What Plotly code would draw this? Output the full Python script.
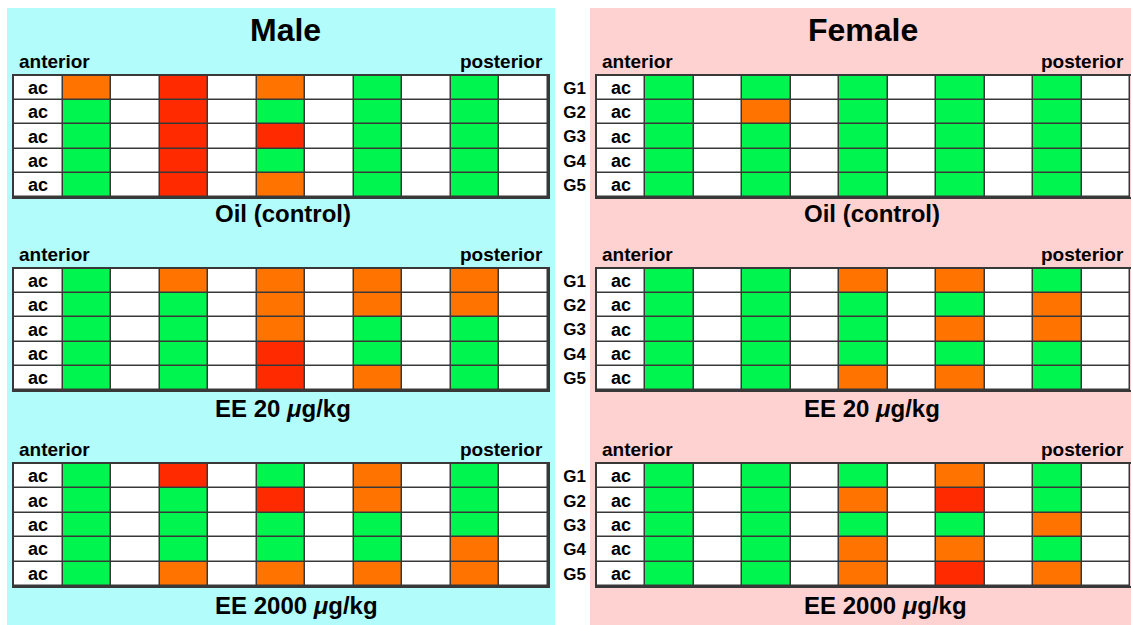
import plotly.graph_objects as go

# ---------------- data ----------------
groups = ["G1", "G2", "G3", "G4", "G5"]
segment_label = "ac"
treatments = ["Oil (control)", "EE 20 <i>μ</i>g/kg", "EE 2000 <i>μ</i>g/kg"]
# codes per colored segment (anterior -> posterior): G = green, O = orange, R = red
male_oil = [["O", "R", "O", "G", "G"],
            ["G", "R", "G", "G", "G"],
            ["G", "R", "R", "G", "G"],
            ["G", "R", "G", "G", "G"],
            ["G", "R", "O", "G", "G"]]
male_ee20 = [["G", "O", "O", "O", "O"],
             ["G", "G", "O", "O", "O"],
             ["G", "G", "O", "G", "G"],
             ["G", "G", "R", "G", "G"],
             ["G", "G", "R", "O", "G"]]
male_ee2000 = [["G", "R", "G", "O", "G"],
               ["G", "G", "R", "O", "G"],
               ["G", "G", "G", "G", "G"],
               ["G", "G", "G", "G", "O"],
               ["G", "O", "O", "O", "O"]]
female_oil = [["G", "G", "G", "G", "G"],
              ["G", "O", "G", "G", "G"],
              ["G", "G", "G", "G", "G"],
              ["G", "G", "G", "G", "G"],
              ["G", "G", "G", "G", "G"]]
female_ee20 = [["G", "G", "O", "O", "G"],
               ["G", "G", "G", "G", "O"],
               ["G", "G", "G", "O", "O"],
               ["G", "G", "G", "G", "G"],
               ["G", "G", "O", "O", "G"]]
female_ee2000 = [["G", "G", "G", "O", "G"],
                 ["G", "G", "O", "R", "G"],
                 ["G", "G", "G", "G", "O"],
                 ["G", "G", "O", "O", "G"],
                 ["G", "G", "O", "R", "O"]]

# ---------------- styling ----------------
W, H = 1131, 625
FONT = "Liberation Sans, Arial, Helvetica, sans-serif"
C_WHITE, C_GREEN, C_ORANGE, C_RED = "#ffffff", "#00f54f", "#ff7300", "#ff2a00"
LINE = "#383838"
CYAN, PINK = "#b3fcfc", "#ffd2d2"
code_val = {"G": 1, "O": 2, "R": 3}
cscale = [[0, C_WHITE], [0.125, C_WHITE], [0.125, C_GREEN], [0.375, C_GREEN],
          [0.375, C_ORANGE], [0.625, C_ORANGE], [0.625, C_RED], [1, C_RED]]


def px(x):
    return x / W


def py(y):
    return 1 - y / H


panels = [
    # (data, x-left, x-right, y-top, y-bottom, female)
    (male_oil, 14, 548, 76, 197, False),
    (male_ee20, 14, 548, 269, 390, False),
    (male_ee2000, 14, 548, 464, 586, False),
    (female_oil, 597, 1131, 76, 197, True),
    (female_ee20, 597, 1131, 269, 390, True),
    (female_ee2000, 597, 1131, 464, 586, True),
]

fig = go.Figure()
layout = dict(width=W, height=H, margin=dict(l=0, r=0, t=0, b=0),
              paper_bgcolor="white", plot_bgcolor="white", showlegend=False,
              font=dict(family=FONT, color="black"))
shapes = [
    dict(type="rect", xref="paper", yref="paper", x0=px(7), x1=px(555), y0=0, y1=py(8),
         fillcolor=CYAN, line=dict(width=0), layer="below"),
    dict(type="rect", xref="paper", yref="paper", x0=px(590), x1=1, y0=0, y1=py(8),
         fillcolor=PINK, line=dict(width=0), layer="below"),
]

for i, (data, x0, x1, y0, y1, female) in enumerate(panels, start=1):
    z, txt = [], []
    for row in data:
        zr = [0]
        for c in row:
            zr += [code_val[c], 0]
        z.append(zr)
        txt.append([segment_label] + [""] * (len(zr) - 1))
    ncol = len(z[0])
    sx = "" if i == 1 else str(i)
    xmax = ncol - 0.5 + (0.02 if female else 0)
    fig.add_trace(go.Heatmap(
        z=z, x=list(range(ncol)), y=groups, text=txt, texttemplate="<b>%{text}</b>",
        textfont=dict(family=FONT, size=18, color="black"),
        colorscale=cscale, zmin=0, zmax=4, showscale=False, xgap=1.5, ygap=1.5,
        hoverinfo="skip", xaxis="x" + sx, yaxis="y" + sx))
    layout["xaxis" + sx] = dict(domain=[x0 / W, min(x1 / W, 1.0)], range=[-0.5, xmax],
                                showgrid=False, zeroline=False, showticklabels=False,
                                showline=True, mirror=True, linecolor=LINE, linewidth=1.5,
                                anchor="y" + sx, fixedrange=True)
    layout["yaxis" + sx] = dict(domain=[py(y1), py(y0)], autorange="reversed",
                                showgrid=False, zeroline=False, showticklabels=female,
                                tickfont=dict(family=FONT, size=17, color="black", weight="bold"),
                                ticks="", ticklabelstandoff=6,
                                showline=True, mirror=not female, linecolor=LINE, linewidth=1.5,
                                anchor="x" + sx, fixedrange=True)
    # dark underlay so the cell gaps read as grid lines
    shapes.append(dict(type="rect", xref="x" + sx, yref="y" + sx, x0=-0.5, x1=ncol - 0.5,
                       y0=-0.5, y1=len(groups) - 0.5, fillcolor=LINE, line=dict(width=0),
                       layer="below"))

ann = []


def add_text(text, x, y, size, xanchor="center"):
    ann.append(dict(text="<b>" + text + "</b>", x=px(x), y=py(y), xref="paper", yref="paper",
                    xanchor=xanchor, yanchor="middle", showarrow=False,
                    font=dict(family=FONT, size=size, color="black")))


add_text("Male", 285, 30, 32)
add_text("Female", 863, 30, 32)

label_rows = [62, 255, 449]
treat_rows = [213, 408, 605]
for k in range(3):
    add_text("anterior", 17, label_rows[k], 19, "left")
    add_text("posterior", 545, label_rows[k], 19, "right")
    add_text("anterior", 600, label_rows[k], 19, "left")
    add_text("posterior", 1126, label_rows[k], 19, "right")
    add_text(treatments[k], 213, treat_rows[k], 24, "left")
    add_text(treatments[k], 802, treat_rows[k], 24, "left")

layout["shapes"] = shapes
layout["annotations"] = ann
fig.update_layout(**layout)
fig.write_html("out.html", config={"displayModeBar": False},
               post_script="document.body.style.margin='0';document.body.style.overflow='hidden';")
